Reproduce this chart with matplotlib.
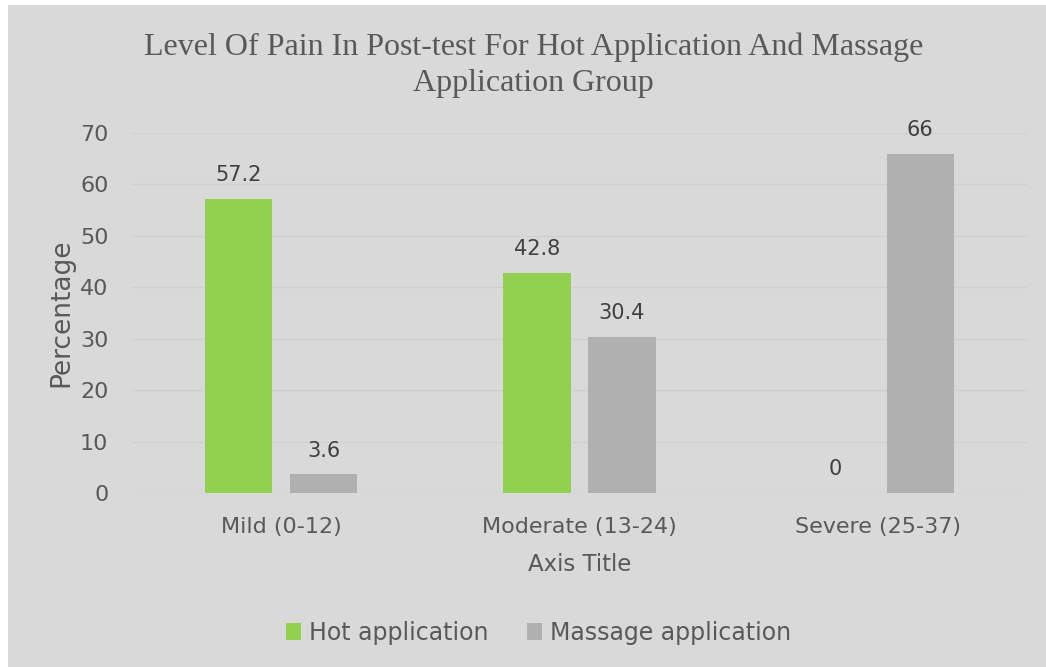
import matplotlib
matplotlib.use("Agg")
import matplotlib.pyplot as plt
import numpy as np
from matplotlib.patches import Rectangle

# values
categories = ["Mild (0-12)", "Moderate (13-24)", "Severe (25-37)"]
hot_application = [57.2, 42.8, 0]
massage_application = [3.6, 30.4, 66]
series_names = ["Hot application", "Massage application"]

green = "#92d050"
grey = "#b0b0b0"
bg = "#d9d9d9"
txt = "#595959"

plt.rcParams["font.family"] = ["DejaVu Sans"]

fig = plt.figure(figsize=(10.46, 6.67), dpi=100)
fig.patch.set_facecolor("white")
# grey chart area (small white margin left/top like the source)
fig.patches.append(Rectangle((8 / 1046, 0), 1 - 8 / 1046, 1 - 5 / 667,
                             transform=fig.transFigure, facecolor=bg,
                             edgecolor="none", zorder=-10))

ax = fig.add_axes([132 / 1046, 1 - 493 / 667, (1027 - 132) / 1046, (493 - 133) / 667])
ax.set_facecolor(bg)
ax.patch.set_alpha(0)

x = np.arange(len(categories))
w = 0.225
off = 0.1425
b1 = ax.bar(x - off, hot_application, w, color=green, label=series_names[0], zorder=3)
b2 = ax.bar(x + off, massage_application, w, color=grey, label=series_names[1], zorder=3)

for bars, vals in ((b1, hot_application), (b2, massage_application)):
    for r, v in zip(bars, vals):
        lab = "%g" % v
        ax.annotate(lab, (r.get_x() + r.get_width() / 2, r.get_height()),
                    xytext=(0, 10), textcoords="offset points",
                    ha="center", va="bottom", fontsize=15, color="#404040")

ax.set_xlim(-0.5, 2.5)
ax.set_ylim(0, 70)
ax.set_yticks(range(0, 71, 10))
ax.set_xticks(x)
ax.set_xticklabels(categories)
ax.tick_params(axis="both", length=0, labelsize=16, colors=txt)
ax.tick_params(axis="y", pad=17)
ax.tick_params(axis="x", pad=17)
ax.grid(axis="y", color="#d0d0d0", linewidth=1, zorder=0)
for s in ax.spines.values():
    s.set_visible(False)

ax.set_ylabel("Percentage", fontsize=19, color=txt, labelpad=4)
ax.set_xlabel("Axis Title", fontsize=16.5, color=txt, labelpad=12)

fig.text(0.51, 1 - 65 / 667, "Level Of Pain In Post-test For Hot Application And Massage\nApplication Group",
         ha="center", va="center", fontsize=23, color=txt,
         family="Liberation Serif", linespacing=1.3)

leg = fig.legend(loc="center", bbox_to_anchor=(0.515, 1 - 633 / 667), ncol=2,
                 frameon=False, fontsize=17, handlelength=0.65, handleheight=0.75,
                 handletextpad=0.35, columnspacing=1.6)
for t in leg.get_texts():
    t.set_color(txt)

fig.savefig("out.png", dpi=100)
